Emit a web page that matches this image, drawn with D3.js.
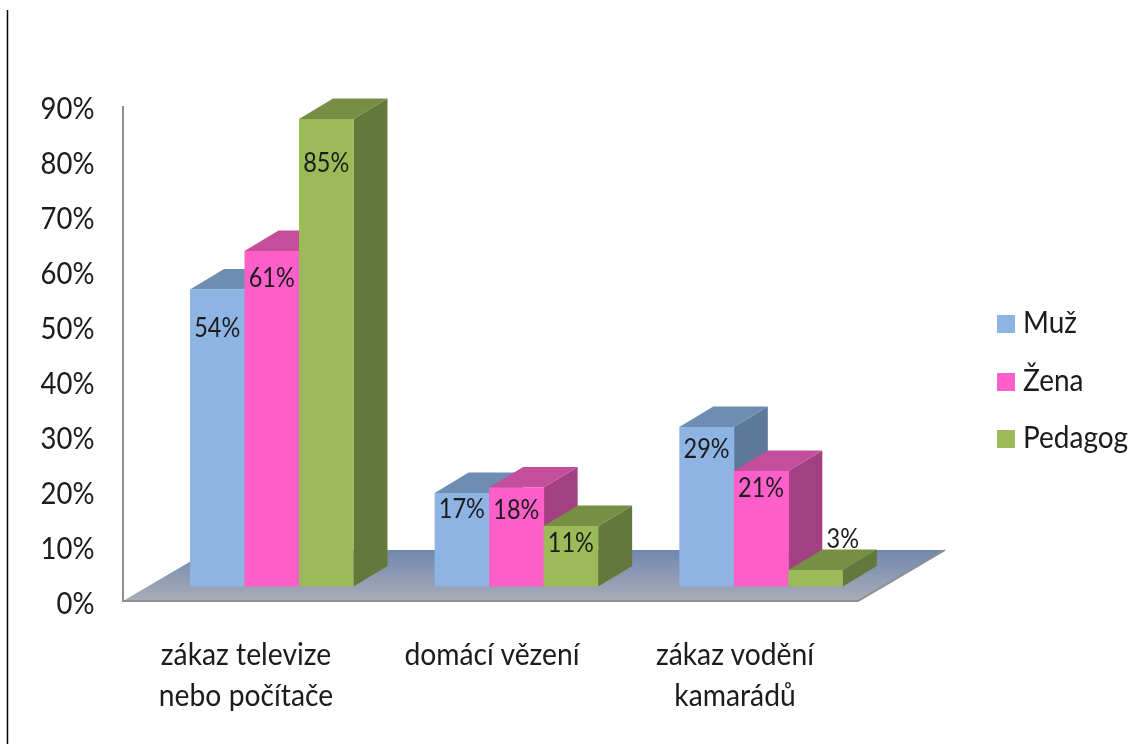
<!DOCTYPE html>
<html><head><meta charset="utf-8">
<style>html,body{margin:0;padding:0;background:#fff}svg{display:block}
text{font-family:Lato,"Open Sans",sans-serif;fill:#1a1a1a}</style>
<script src="https://cdn.jsdelivr.net/npm/d3@7"></script></head><body>
<script>
const categories = [["zákaz televize","nebo počítače"],["domácí vězení"],["zákaz vodění","kamarádů"]];
const seriesNames = ["Muž","Žena","Pedagog"];
const muz = [54,17,29];
const zena = [61,18,21];
const pedagog = [85,11,3];
const tickValues = [0,10,20,30,40,50,60,70,80,90];
const faceColors = ["#8EB4E3","#FF5FC8","#9BBB59"];
const topColors = ["#6E8DB2","#C44E9C","#768F44"];
const sideColors = ["#5D7899","#A23F82","#65783A"];

const series = [muz,zena,pedagog];
// layout only: baseline of each value label, measured down from its bar's top
const labelDrop = [[47,25,31],[36,31,26],[53,26,-22]];
const yStretch = 1.12;

const svg = d3.select("body").append("svg").attr("width",1139).attr("height",744);
const defs = svg.append("defs");
const f = defs.append("filter").attr("id","soft").attr("x","-5%").attr("y","-5%").attr("width","110%").attr("height","110%");
f.append("feGaussianBlur").attr("stdDeviation",0.45);
const g = defs.append("linearGradient").attr("id","floor").attr("x1",0).attr("y1",0).attr("x2",0).attr("y2",1);
g.append("stop").attr("offset",0).attr("stop-color","#7088AE");
g.append("stop").attr("offset",1).attr("stop-color","#A9ADB8");

svg.append("line").attr("x1",7.5).attr("x2",7.5).attr("y1",10).attr("y2",744).attr("stroke","#000").attr("stroke-width",1.5);

const root = svg.append("g").attr("filter","url(#soft)");
const y = d3.scaleLinear().domain([0,90]).range([601,106]);
const x0 = d3.scaleBand().domain(d3.range(categories.length)).range([190,190+244.65*3]);
const x1 = d3.scaleBand().domain(d3.range(series.length)).range([0,163.5]);
const bw = x1.bandwidth();
const dx = 34, dy = 20.5;
const wallX = 123, floorFront = y(0), floorRight = 858, floorDX = 87, floorDY = 51;
const barBase = 586.5;
const h = v => y(0)-y(v);
const label = (sel,px,py,size,anchor,txt) => sel.append("text")
  .attr("transform",`translate(${px},${py}) scale(1,${yStretch})`)
  .attr("text-anchor",anchor).attr("font-size",size).text(txt);

// floor and walls
root.append("path").attr("fill","url(#floor)")
 .attr("d",`M${wallX},${floorFront}L${wallX+floorDX},${floorFront-floorDY}L${floorRight+floorDX},${floorFront-floorDY}L${floorRight},${floorFront}Z`);
root.append("path").attr("fill","none").attr("stroke","#8f8f8f").attr("stroke-width",2)
 .attr("d",`M${wallX},${y(90)}V${floorFront}H${floorRight}L${floorRight+floorDX},${floorFront-floorDY}`);

// y axis labels
tickValues.forEach(d=>label(root,94.5,y(d)+12.5,27.5,"end",d+"%"));

// bars
categories.forEach((c,ci)=>{
  series.forEach((s,si)=>{
    const v=s[ci], xl=x0(ci)+x1(si), xr=xl+bw, yt=barBase-h(v), b=root.append("g");
    b.append("path").attr("fill",sideColors[si]).attr("d",`M${xr},${barBase}L${xr+dx},${barBase-dy}L${xr+dx},${yt-dy}L${xr},${yt}Z`);
    b.append("path").attr("fill",topColors[si]).attr("d",`M${xl},${yt}L${xl+dx},${yt-dy}L${xr+dx},${yt-dy}L${xr},${yt}Z`);
    b.append("rect").attr("x",xl).attr("y",yt).attr("width",bw+(si<series.length-1?0.5:0)).attr("height",barBase-yt).attr("fill",faceColors[si]);
  });
});
// value and category labels
categories.forEach((c,ci)=>{
  series.forEach((s,si)=>{
    const v=s[ci], xl=x0(ci)+x1(si), yt=barBase-h(v), small=v<5;
    label(root,small?xl+bw:xl+bw/2,yt+labelDrop[si][ci],23.5,"middle",v+"%");
  });
  const cx=[246,492,735][ci];
  c.forEach((line,i)=>label(root,cx,665+i*41,28.3,"middle",line));
});
// legend
seriesNames.forEach((n,i)=>{
  const yy=[333,391,448][i];
  root.append("rect").attr("x",997).attr("y",yy-18).attr("width",18).attr("height",18).attr("fill",faceColors[i]);
  label(root,1023,yy,28,"start",n);
});
</script></body></html>
